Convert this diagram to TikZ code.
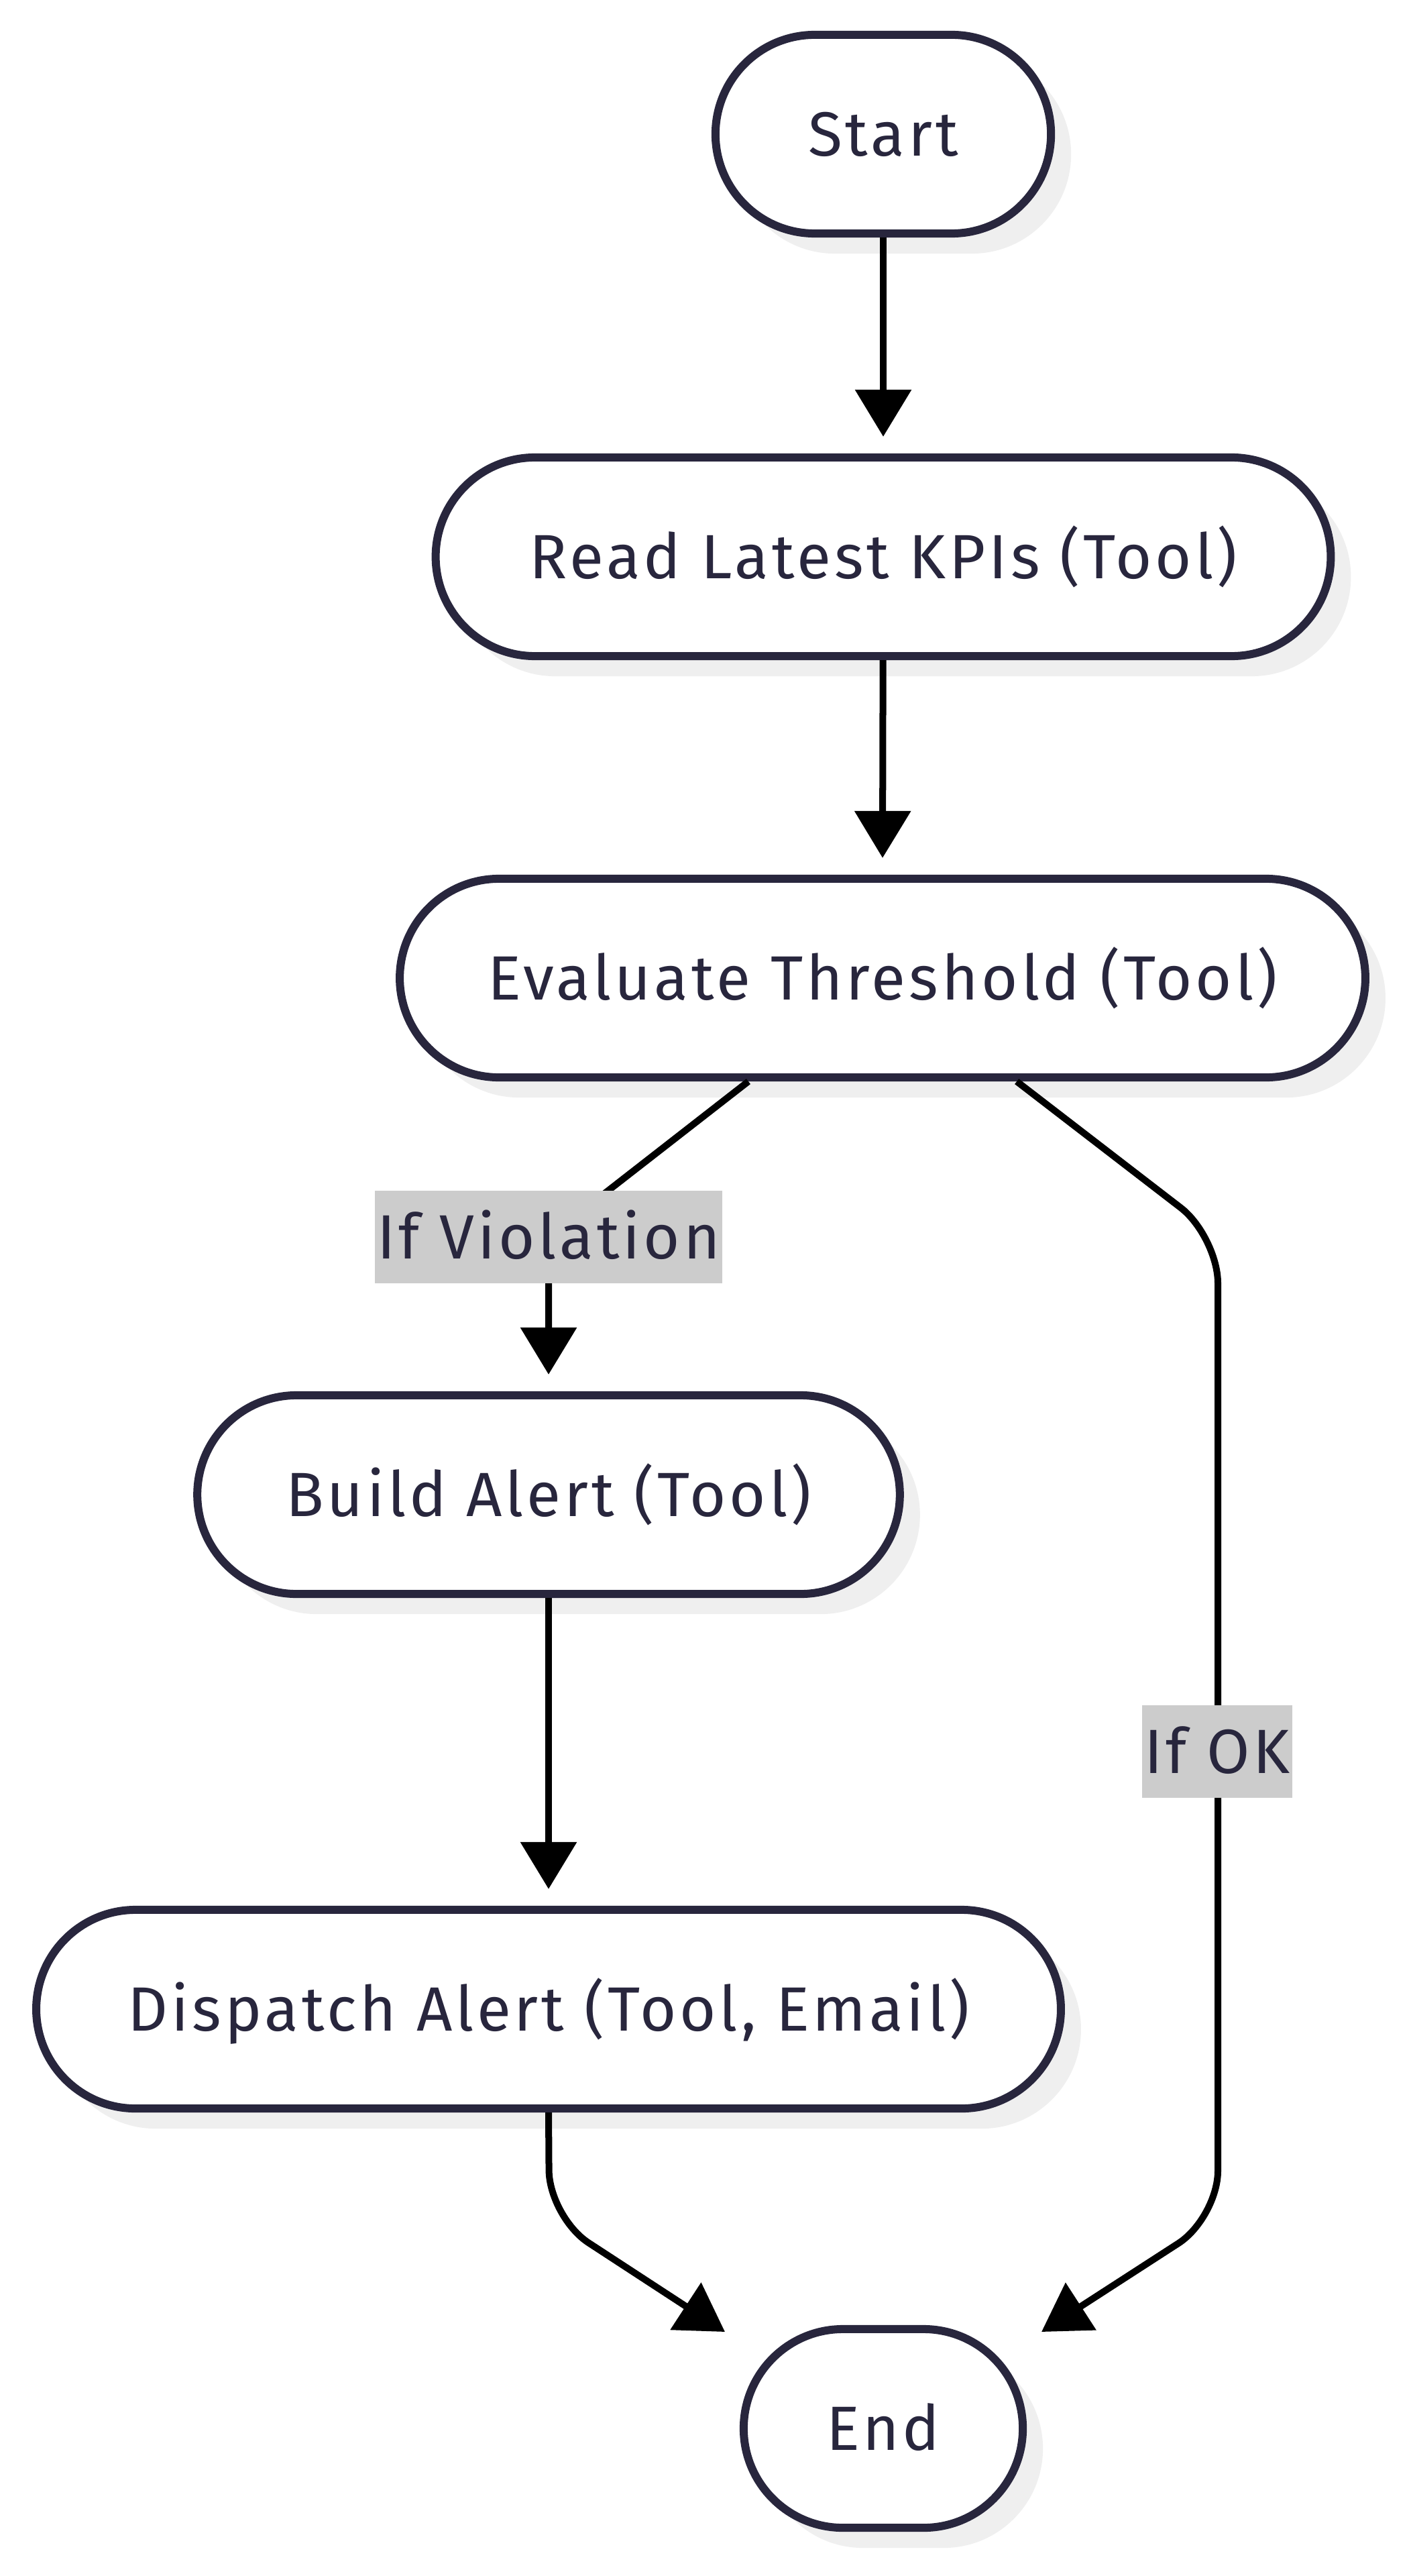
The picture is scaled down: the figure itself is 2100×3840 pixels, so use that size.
\documentclass[tikz,border=0pt]{standalone}
\usepackage{fontspec}
\setmainfont{Fira Sans}[LetterSpace=5.3]
\usetikzlibrary{arrows.meta,shadows}

\definecolor{nodeline}{HTML}{28263D}
\definecolor{shadowgrey}{HTML}{EFEFEF}
\definecolor{labelgrey}{HTML}{CCCCCC}

\tikzset{
	pill/.style={draw=nodeline, line width=0.12cm, fill=white, rounded corners=1.48cm,
		minimum height=2.96cm, text=nodeline, font=\fontsize{26.5}{32}\selectfont,
		text height=0.64cm, text depth=0pt,
		drop shadow={shadow xshift=0.3cm, shadow yshift=-0.3cm, fill=shadowgrey, opacity=1}},
	flow/.style={line width=0.1cm, -{Triangle[width=0.82cm,length=0.7cm]}, rounded corners=0.7cm},
	edgelabel/.style={fill=labelgrey, text=nodeline, font=\fontsize{26.5}{32}\selectfont,
		inner xsep=0.03cm, inner ysep=0.37cm, text height=0.64cm, text depth=0pt}
}

\begin{document}
\begin{tikzpicture}[x=0.01cm, y=-0.01cm]
		\useasboundingbox (0,0) rectangle (2100,3840);
		
		% Steps
		\node[pill, minimum width=5.0cm] (start) at (1317,200) {Start};
		\node[pill, minimum width=13.34cm] (kpis) at (1317,830) {Read Latest KPIs (Tool)};
		\node[pill, minimum width=14.39cm] (eval) at (1316,1458) {Evaluate Threshold (Tool)};
		\node[pill, minimum width=10.47cm] (build) at (818,2228) {Build Alert (Tool)};
		\node[pill, minimum width=15.27cm] (dispatch) at (818,2995) {Dispatch Alert (Tool, Email)};
		\node[pill, minimum width=4.16cm] (end) at (1317,3620) {End};
		
		% Bends and arrow ends
		\coordinate (violBend) at (818,1844);
		\coordinate (okTop) at (1816,1843);
		\coordinate (okBot) at (1816,3306);
		\coordinate (dispBend) at (819,3305);
		\coordinate (endL) at (1081,3476);
		\coordinate (endR) at (1553,3476);
		
		% Main flow
		\draw[flow] (start) -- ([yshift=0.25cm]kpis.north);
		\draw[flow] (kpis) -- ([yshift=0.25cm]eval.north);
		\draw[flow] ([xshift=-2cm]eval.south) -- (violBend) -- ([yshift=0.25cm]build.north);
		\draw[flow] (build) -- ([yshift=0.25cm]dispatch.north);
		\draw[flow] (dispatch.south) -- (dispBend) -- (endL);
		
		% Shortcut when all is fine
		\draw[flow] ([xshift=2cm]eval.south) -- (okTop) -- (okBot) -- (endR);
		
		% Edge labels
		\node[edgelabel] (violLabel) at (violBend) {If Violation};
		\node[edgelabel] (okLabel) at (1815,2611) {If OK};
		
	\end{tikzpicture}
\end{document}
